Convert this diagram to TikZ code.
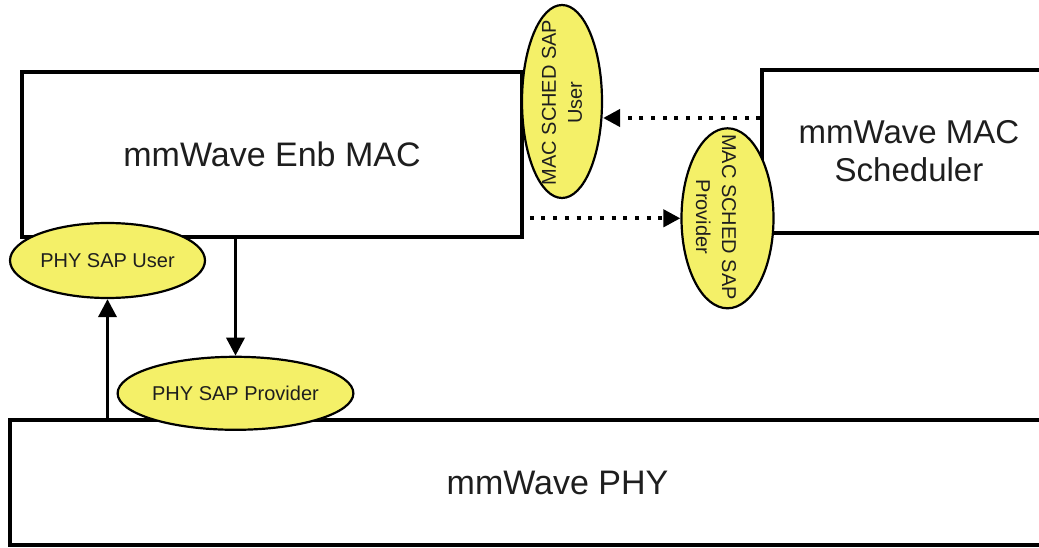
\documentclass[tikz,border=0pt]{standalone}
\usepackage{fontspec}
\setmainfont{Liberation Sans}
\usetikzlibrary{shapes.geometric,arrows.meta,calc}
\definecolor{sapyellow}{RGB}{244,240,104}
\definecolor{txt}{RGB}{30,30,30}
\begin{document}
\begin{tikzpicture}[x=1pt,y=1pt,
  blk/.style={rectangle,draw=black,line width=3.5pt,fill=white,inner sep=0pt},
  sap/.style={ellipse,draw=black,line width=2.2pt,fill=sapyellow,inner sep=0pt},
  big/.style={font=\fontsize{34}{38}\selectfont,text=txt,align=center},
  saptext/.style={font=\fontsize{20}{26}\selectfont,text=txt,align=center,inner sep=0pt},
  arr/.style={line width=3.5pt,-{Triangle[length=18pt,width=18pt]}},
  dotarr/.style={line width=4pt,dash pattern=on 4pt off 7.7pt,-{Triangle[length=17pt,width=17pt]}}
]
\useasboundingbox (0,0) rectangle (1039,547);
\clip (0,0) rectangle (1039,547);
\fill[white] (0,0) rectangle (1039,547);

% boxes
\node[blk,big,minimum width=500pt,minimum height=165pt] (mac) at (272,392.5) {mmWave Enb MAC};
\node[blk,font=\fontsize{33}{38}\selectfont,text=txt,align=center,minimum width=294pt,minimum height=163pt] (sched) at (909,395.5) {mmWave MAC\\Scheduler};
\node[blk,big,minimum width=1095pt,minimum height=125pt] (phy) at (557.5,64.5) {mmWave PHY};

% SAP ellipses
\node[sap,minimum width=80pt,minimum height=193pt] (msu) at (562,445.5) {};
\node[saptext,rotate=90] (msutext) at (562,444.5) {MAC SCHED SAP\\User};
\node[sap,minimum width=92pt,minimum height=180pt] (msp) at (727.5,328.7) {};
\node[saptext,rotate=-90] (msptext) at (716,330) {MAC SCHED SAP\\Provider};
\node[sap,font=\fontsize{20}{24}\selectfont,text=txt,minimum width=195pt,minimum height=75pt] (psu) at (107.5,286.5) {PHY SAP User};
\node[sap,font=\fontsize{20}{24}\selectfont,text=txt,minimum width=195pt,minimum height=73pt] (psp) at (235.5,153.7) {PHY SAP Provider};

% connectors
\coordinate (d1) at (700,429);
\draw[dotarr] (sched.west |- d1) -- (msu.east |- d1);
\draw[dotarr] ([xshift=6pt]mac.east |- msp.west) -- (msp.west);
\draw[arr] (mac.south -| psp.north) -- (psp.north);
\draw[arr] (phy.north -| psu.south) -- (psu.south);
\end{tikzpicture}
\end{document}
